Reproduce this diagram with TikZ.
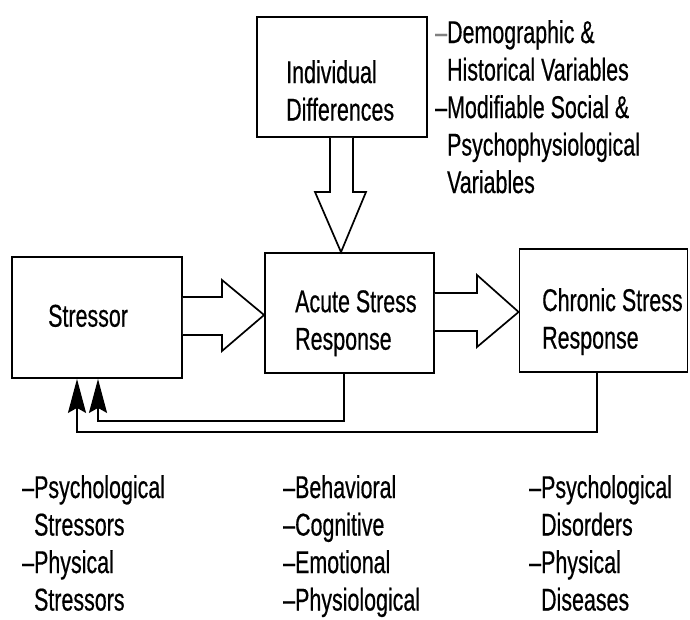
\documentclass[tikz,border=0pt]{standalone}
\usepackage{fontspec}
\setmainfont{Liberation Sans}[FakeStretch=0.68,FakeBold=0.5]
\usetikzlibrary{arrows.meta}
\begin{document}
\begin{tikzpicture}[x=1pt,y=-1pt,
  box/.style={draw, line width=1.8pt, inner sep=0pt},
  txt/.style={font=\fontsize{31.5}{37.5}\selectfont, inner sep=0pt, anchor=north west, align=left},
  blockarrow/.style={draw, line width=1.7pt, fill=white, line join=miter},
  fb/.style={draw, line width=1.9pt, -{Stealth[length=34pt,width=18pt,inset=5pt]}}]
\useasboundingbox (0,0) rectangle (690,619);
% boxes
\node[box, minimum width=170pt, minimum height=121pt] (stressor) at (97,317.5) {};
\node[box, minimum width=169pt, minimum height=120pt] (acute) at (349.5,313) {};
\node[box, minimum width=168pt, minimum height=123pt] (chronic) at (603.5,310.5) {};
\node[box, minimum width=170pt, minimum height=120pt] (indiv) at (342,77) {};
% box texts
\node[txt] (tstressor) at (48,304.5) {Stressor};
\node[txt] (tindiv) at (286,60) {Individual\\Differences};
\node[txt] (tacute) at (295,290) {Acute Stress\\Response};
\node[txt] (tchronic) at (542,288) {Chronic Stress\\Response};
% lists
\node[txt] (lindiv) at (435,20) {\textcolor{gray}{–}Demographic \&\\\phantom{–}Historical Variables\\–Modifiable Social \&\\\phantom{–}Psychophysiological\\\phantom{–}Variables};
\node[txt] (lstressor) at (22,475) {–Psychological\\\phantom{–}Stressors\\–Physical\\\phantom{–}Stressors};
\node[txt] (lacute) at (283,475) {–Behavioral\\–Cognitive\\–Emotional\\–Physiological};
\node[txt] (lchronic) at (529,475) {–Psychological\\\phantom{–}Disorders\\–Physical\\\phantom{–}Diseases};
% block arrows
\path[blockarrow] (stressor.east |- 0,297) -- (222,297) -- (222,280) -- (acute.west |- 0,315) -- (222,351) -- (222,335) -- (stressor.east |- 0,335);
\path[blockarrow] (acute.east |- 0,293) -- (477,293) -- (477,275) -- (chronic.west |- 0,312) -- (477,347) -- (477,331) -- (acute.east |- 0,331);
\path[blockarrow] (indiv.south -| 330,0) -- (330,192) -- (315,192) -- (acute.north -| 341,0) -- (366,192) -- (353,192) -- (indiv.south -| 353,0);
% feedback connectors
\path[fb] (acute.south -| 344,0) |- (98,421) -- (stressor.south -| 98,0);
\path[fb] (chronic.south -| 597,0) |- (77,432) -- (stressor.south -| 77,0);
\end{tikzpicture}
\end{document}
